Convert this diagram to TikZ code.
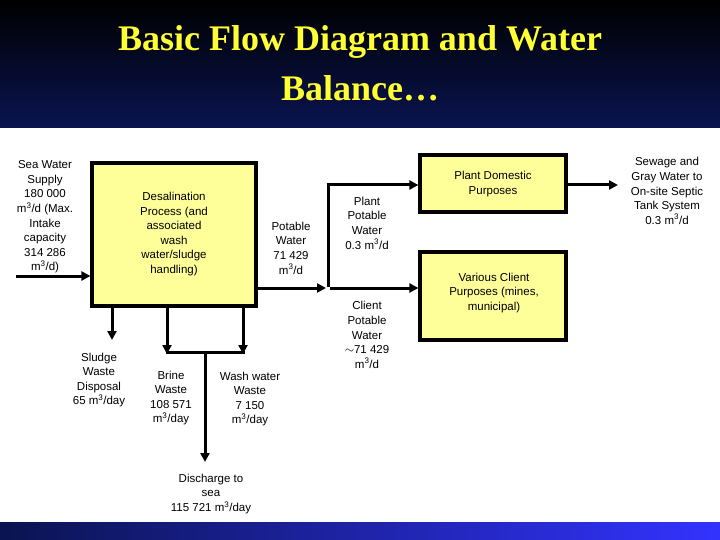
\documentclass[tikz,border=0pt]{standalone}
\usepackage{fontspec}
\usetikzlibrary{arrows.meta}
\setmainfont{Liberation Sans}
\newfontfamily\titlefont{Liberation Serif}
\definecolor{boxy}{HTML}{FFFF99}
\definecolor{navy}{HTML}{0A1450}
\definecolor{ttl}{HTML}{FFFF33}
\begin{document}
\begin{tikzpicture}[x=1pt,y=-1pt,
  blk/.style={draw=black,line width=3.2pt,fill=boxy},
  flow/.style={line width=3pt,-{Triangle[length=9pt,width=9pt]}},
  pipe/.style={line width=3pt},
  lbl/.style={align=center,font=\fontsize{11.5}{14.6}\selectfont,inner sep=0pt}]
\useasboundingbox (0,0) rectangle (720,540);
\shade[top color=black,bottom color=navy] (0,0) rectangle (720,128);
\fill[white] (0,128) rectangle (720,522);
\shade[left color=navy,right color=blue!80!white] (0,522) rectangle (720,540);
\node[font=\titlefont\bfseries\fontsize{36}{50}\selectfont,text=ttl,align=center] (title) at (360,63) {Basic Flow Diagram and Water\\Balance\ldots};
% boxes
\node[blk,minimum width=164pt,minimum height=143pt] (desal) at (174,234.5) {};
\node[lbl] (desalt) at (174,234) {Desalination\\Process (and\\associated\\wash\\water/sludge\\handling)};
\node[blk,minimum width=146pt,minimum height=57pt] (dom) at (493,183.5) {};
\node[lbl] (domt) at (493,184) {Plant Domestic\\Purposes};
\node[blk,minimum width=146pt,minimum height=88pt] (cli) at (493,296) {};
\node[lbl] (clit) at (494,293) {Various Client\\Purposes (mines,\\municipal)};
% coordinates
\coordinate (sw) at (16,276);
\coordinate (split) at (328,288);
\coordinate (splittop) at (328,185);
\coordinate (sew) at (618,185);
\coordinate (sl) at (112,340);
\coordinate (br) at (167,352);
\coordinate (ww) at (243,352);
\coordinate (mid) at (205,352);
\coordinate (dis) at (205,462);
% connectors
\draw[flow] (sw) -- (desal.west |- sw);
\draw[flow] (desal.east |- split) -- ([xshift=-2pt]split);
\draw[pipe] ([yshift=-1.5pt]splittop) -- ([yshift=1.5pt]split);
\draw[flow] ([xshift=2pt]split) -- (cli.west |- split);
\draw[flow] ([xshift=-1.5pt]splittop) -- (dom.west |- splittop);
\draw[flow] (dom.east |- sew) -- (sew);
\draw[flow] (desal.south -| sl) -- (sl);
\draw[flow] (desal.south -| br) -- ([yshift=-2pt]br);
\draw[flow] (desal.south -| ww) -- ([yshift=-2pt]ww);
\draw[pipe] ([xshift=-1.5pt]br) -- ([xshift=1.5pt]ww);
\draw[flow] (mid) -- (dis);
% labels
\node[lbl] (swt) at (45,217) {Sea Water\\Supply\\180 000\\m\textsuperscript{3}/d (Max.\\Intake\\capacity\\314 286\\m\textsuperscript{3}/d)};
\node[lbl] (pw) at (291,248) {Potable\\Water\\71 429\\m\textsuperscript{3}/d};
\node[lbl] (ppw) at (367,223) {Plant\\Potable\\Water\\0.3 m\textsuperscript{3}/d};
\node[lbl] (cpw) at (367,335) {Client\\Potable\\Water\\$\sim$71 429\\m\textsuperscript{3}/d};
\node[lbl] (sewt) at (667,191) {Sewage and\\Gray Water to\\On-site Septic\\Tank System\\0.3 m\textsuperscript{3}/d};
\node[lbl] (slt) at (99,380) {Sludge\\Waste\\Disposal\\65 m\textsuperscript{3}/day};
\node[lbl] (brt) at (171,398) {Brine\\Waste\\108 571\\m\textsuperscript{3}/day};
\node[lbl] (wwt) at (250,399) {Wash water\\Waste\\7 150\\m\textsuperscript{3}/day};
\node[lbl] (dist) at (211,494) {Discharge to\\sea\\115 721 m\textsuperscript{3}/day};
\end{tikzpicture}
\end{document}
